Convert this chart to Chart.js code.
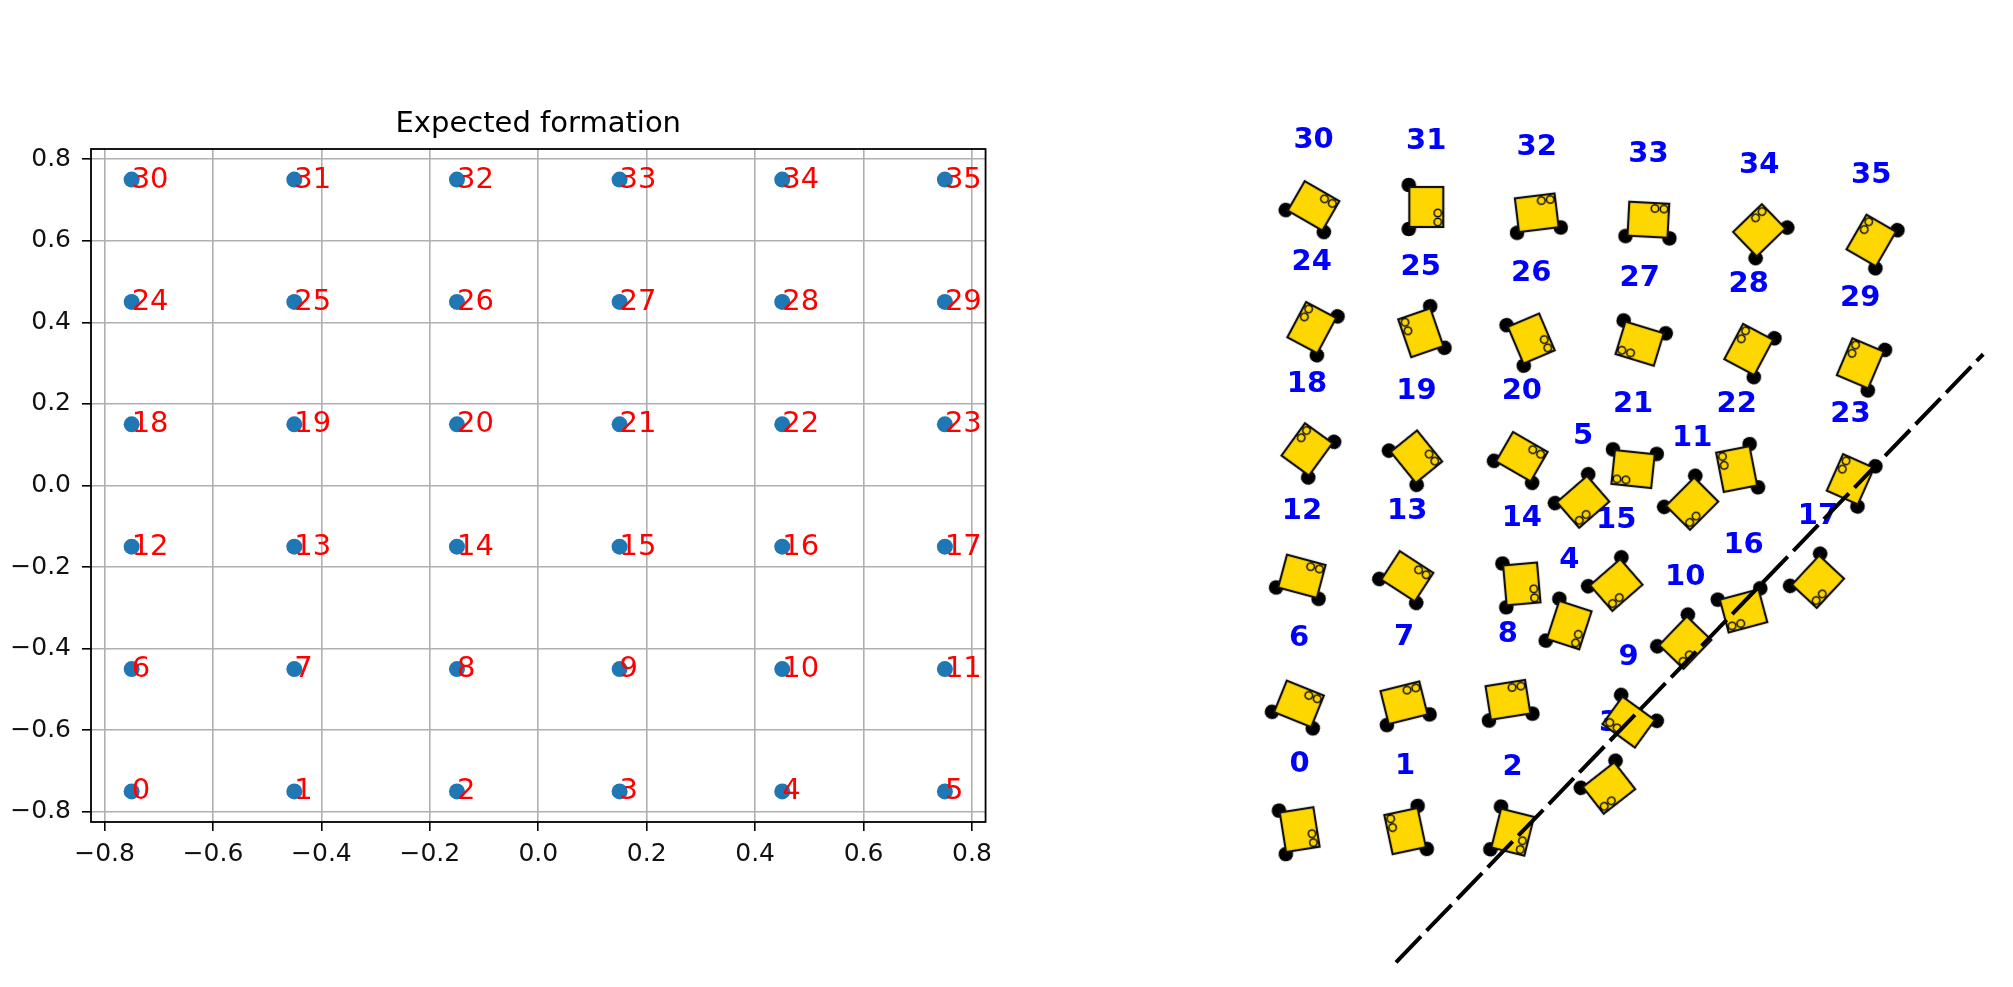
<!DOCTYPE html>
<html><head><meta charset="utf-8">
<script src="https://cdn.jsdelivr.net/npm/chart.js@4.4.1/dist/chart.umd.min.js"></script>
<style>
html,body{margin:0;padding:0;background:#fff;width:2013px;height:987px;overflow:hidden}
#left{position:absolute;left:0;top:0;width:1000px;height:987px}
#right{position:absolute;left:1000px;top:0;width:1013px;height:987px}
</style></head><body>
<div id="left"><canvas id="c1"></canvas></div>
<div id="right"><canvas id="c2"></canvas></div>
<script>
// ---------- Left panel: expected formation ----------
const TITLE = 'Expected formation';
const FORM_X = [-0.75,-0.45,-0.15,0.15,0.45,0.75, -0.75,-0.45,-0.15,0.15,0.45,0.75,
                -0.75,-0.45,-0.15,0.15,0.45,0.75, -0.75,-0.45,-0.15,0.15,0.45,0.75,
                -0.75,-0.45,-0.15,0.15,0.45,0.75, -0.75,-0.45,-0.15,0.15,0.45,0.75];
const FORM_Y = [-0.75,-0.75,-0.75,-0.75,-0.75,-0.75, -0.45,-0.45,-0.45,-0.45,-0.45,-0.45,
                -0.15,-0.15,-0.15,-0.15,-0.15,-0.15, 0.15,0.15,0.15,0.15,0.15,0.15,
                0.45,0.45,0.45,0.45,0.45,0.45, 0.75,0.75,0.75,0.75,0.75,0.75];
const FORM_LABELS = ['0','1','2','3','4','5','6','7','8','9','10','11','12','13','14','15','16','17',
                     '18','19','20','21','22','23','24','25','26','27','28','29','30','31','32','33','34','35'];
const X_TICKS = [-0.8,-0.6,-0.4,-0.2,0,0.2,0.4,0.6,0.8];
const X_TICK_LABELS = ['\u22120.8','\u22120.6','\u22120.4','\u22120.2','0.0','0.2','0.4','0.6','0.8'];
const Y_TICKS = [-0.8,-0.6,-0.4,-0.2,0,0.2,0.4,0.6,0.8];
const Y_TICK_LABELS = ['\u22120.8','\u22120.6','\u22120.4','\u22120.2','0.0','0.2','0.4','0.6','0.8'];

// ---------- Right panel: actual robots ----------
const ROBOT_LABELS = FORM_LABELS;
const ROBOT_X = [-0.772,-0.483,-0.188,0.076,-0.033,0.005,-0.774,-0.486,-0.201,0.130,0.285,0.304,
                 -0.766,-0.477,-0.163,0.096,0.445,0.649,-0.752,-0.452,-0.163,0.142,0.426,0.738,
                 -0.739,-0.440,-0.137,0.160,0.459,0.765,-0.734,-0.425,-0.122,0.184,0.488,0.795];
const ROBOT_Y = [-0.842,-0.846,-0.849,-0.728,-0.281,0.057,-0.497,-0.494,-0.486,-0.547,-0.329,0.052,
                 -0.147,-0.147,-0.168,-0.171,-0.242,-0.162,0.201,0.181,0.181,0.147,0.147,0.119,
                 0.535,0.521,0.505,0.491,0.475,0.437,0.869,0.866,0.850,0.831,0.802,0.774];
const ROBOT_HEADING = [9,-168,-14,-52,-18,-49,68,104,99,-126,-44,-45,
                       75,57,5,-49,-75,-43,144,39,60,-96,-169,156,
                       152,-161,23,-107,152,157,60,0,97,87,134,150];
const LINE_X = [-0.508, 1.102];
const LINE_Y = [-1.206, 0.462];

const FONT = 'DejaVu Sans';

// ----- left chart -----
const leftPlugin = {
  id: 'leftDeco',
  afterDatasetsDraw(chart) {
    const ctx = chart.ctx, xs = chart.scales.x, ys = chart.scales.y;
    ctx.save();
    ctx.fillStyle = '#ff0000';
    ctx.font = '29px "' + FONT + '"';
    ctx.textAlign = 'left';
    ctx.textBaseline = 'alphabetic';
    for (let i = 0; i < FORM_X.length; i++) {
      ctx.fillText(FORM_LABELS[i], xs.getPixelForValue(FORM_X[i]), ys.getPixelForValue(FORM_Y[i]) + 8);
    }
    ctx.restore();
  },
  afterDraw(chart) {
    const ctx = chart.ctx, a = chart.chartArea;
    ctx.save();
    ctx.strokeStyle = '#000';
    ctx.lineWidth = 1.8;
    ctx.strokeRect(a.left, a.top, a.right - a.left, a.bottom - a.top);
    ctx.fillStyle = '#000';
    ctx.font = '29px "' + FONT + '"';
    ctx.textAlign = 'center';
    ctx.textBaseline = 'alphabetic';
    ctx.fillText(TITLE, (a.left + a.right) / 2, a.top - 17);
    ctx.restore();
  }
};

function axisCommon(ticksArr, labelsArr, pad) {
  return {
    type: 'linear', min: -0.825, max: 0.825,
    afterBuildTicks: s => { s.ticks = ticksArr.map(v => ({value: v})); },
    ticks: { callback: (v, i) => labelsArr[i], font: {family: FONT, size: 25}, color: '#111',
             padding: pad, maxRotation: 0, autoSkip: false },
    grid: { color: '#b0b0b0', lineWidth: 1.6, tickColor: '#000', tickLength: 9, tickWidth: 1.6 },
    border: { display: false }
  };
}

const xAxis = axisCommon(X_TICKS, X_TICK_LABELS, 8);
xAxis.afterFit = s => { s.height = 60; };
const yAxis = axisCommon(Y_TICKS, Y_TICK_LABELS, 11);
yAxis.afterFit = s => { s.width = 91; };

new Chart(document.getElementById('c1'), {
  type: 'scatter',
  data: { datasets: [{
    data: FORM_X.map((x, i) => ({x: x, y: FORM_Y[i]})),
    backgroundColor: '#1f77b4', borderColor: '#1f77b4', borderWidth: 0, pointRadius: 8
  }]},
  options: {
    responsive: true, maintainAspectRatio: false, animation: false, events: [],
    layout: { padding: { left: 0, top: 149, right: 6, bottom: 105 } },
    plugins: { legend: {display: false}, tooltip: {enabled: false}, title: {display: false} },
    scales: { x: xAxis, y: yAxis }
  },
  plugins: [leftPlugin]
});

// ----- robot sprite -----
function makeRobotSprite() {
  const c = document.createElement('canvas');
  c.width = 70; c.height = 70;
  const g = c.getContext('2d');
  g.translate(35, 35);
  const L = 34, W = 40;
  g.fillStyle = '#000';
  [[-L/2 - 0.5, -W/2 - 2], [-L/2 - 0.5, W/2 + 2]].forEach(p => {
    g.beginPath(); g.arc(p[0], p[1], 7.3, 0, Math.PI * 2); g.fill();
  });
  g.fillStyle = '#ffd700';
  g.strokeStyle = '#111';
  g.lineWidth = 2.2;
  g.fillRect(-L/2, -W/2, L, W);
  g.strokeRect(-L/2, -W/2, L, W);
  g.lineWidth = 1.5;
  [[L/2 - 5.5, 6], [L/2 - 5.5, 15]].forEach(p => {
    g.beginPath(); g.arc(p[0], p[1], 3.7, 0, Math.PI * 2); g.fill(); g.stroke();
  });
  return c;
}
const robotSprite = makeRobotSprite();

const rightPlugin = {
  id: 'robotLabels',
  beforeDatasetsDraw(chart) {
    const ctx = chart.ctx, xs = chart.scales.x, ys = chart.scales.y;
    ctx.save();
    ctx.fillStyle = '#0000ff';
    ctx.font = 'bold 29px "' + FONT + '"';
    ctx.textAlign = 'center';
    ctx.textBaseline = 'middle';
    for (let i = 0; i < ROBOT_X.length; i++) {
      ctx.fillText(ROBOT_LABELS[i], xs.getPixelForValue(ROBOT_X[i]), ys.getPixelForValue(ROBOT_Y[i]) - 65);
    }
    ctx.restore();
  }
};

new Chart(document.getElementById('c2'), {
  type: 'scatter',
  data: { datasets: [
    { type: 'line', data: LINE_X.map((x, i) => ({x: x, y: LINE_Y[i]})),
      borderColor: '#000', borderWidth: 4, borderDash: [36, 8], pointRadius: 0,
      fill: false, tension: 0, order: 0, clip: false },
    { data: ROBOT_X.map((x, i) => ({x: x, y: ROBOT_Y[i]})),
      pointStyle: robotSprite, rotation: c => -ROBOT_HEADING[c.dataIndex],
      pointRadius: 3, backgroundColor: '#ffd700', borderColor: '#000', order: 1 }
  ]},
  options: {
    responsive: true, maintainAspectRatio: false, animation: false, events: [],
    layout: { padding: 0 },
    plugins: { legend: {display: false}, tooltip: {enabled: false} },
    scales: {
      x: { type: 'linear', min: -1.58, max: 1.17, display: false },
      y: { type: 'linear', min: -1.26, max: 1.42, display: false }
    }
  },
  plugins: [rightPlugin]
});
</script>
</body></html>
